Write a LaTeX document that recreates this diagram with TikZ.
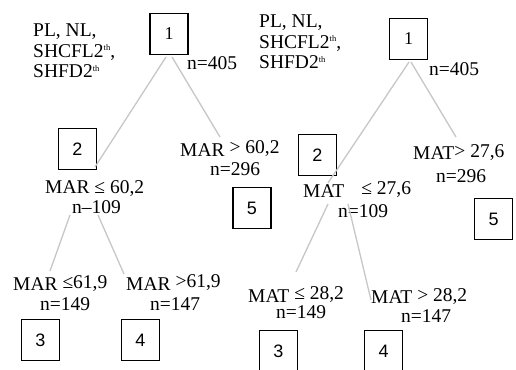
\documentclass[tikz,border=0pt]{standalone}
\usepackage{fontspec}
\setmainfont{Liberation Serif}
\newfontfamily\numsans{Liberation Sans}
\newcommand{\thsup}{\raisebox{6.5pt}{\fontsize{8.5}{8.5}\selectfont th}}
\tikzset{
  nbox/.style={draw=black, line width=1.2pt, minimum width=38pt, minimum height=41pt, inner sep=0pt, font=\numsans\fontsize{18}{18}\selectfont},
  lbl/.style={font=\fontsize{19.5}{19.5}\selectfont, inner sep=0pt, anchor=base west},
  vars/.style={font=\fontsize{19.5}{20.5}\selectfont, inner sep=0pt, anchor=north west, align=left},
  edge/.style={draw=black!22, line width=1.3pt},
}
\begin{document}
\begin{tikzpicture}[x=1pt,y=-1pt]
\clip (0,0) rectangle (516,369);
\fill[white] (0,0) rectangle (516,369);

% ---------------- left tree ----------------
\node[vars] (Lvars) at (33,24) {PL, NL,\\SHCFL2\thsup,\\SHFD2\thsup};
\node[nbox, font=\fontsize{18}{18}\selectfont] (L1) at (169,34) {1};
\node[lbl] (Ln1) at (187,69) {n=405};
\node[nbox] (L2) at (77.5,149) {2};
\node[lbl] (Lc2) at (45,193) {MAR ≤ 60,2};
\node[lbl] (Ln2) at (72,213) {n–109};
\node[lbl] (Lc5) at (180,156) {MAR \raisebox{3pt}{> 60,2}};
\node[lbl] (Ln5) at (210,175) {n=296};
\node[nbox] (L5) at (252,208) {5};
\node[lbl] (Lc3) at (13,290) {MAR \raisebox{2pt}{≤61,9}};
\node[lbl] (Ln3) at (40,310) {n=149};
\node[nbox] (L3) at (40.5,340) {3};
\node[lbl] (Lc4) at (126,290) {MAR \raisebox{3pt}{>61,9}};
\node[lbl] (Ln4) at (150,310) {n=147};
\node[nbox] (L4) at (140.5,340) {4};

\coordinate (La) at (166,57);
\coordinate (Lb) at (95,167);
\coordinate (Lc) at (172,57);
\coordinate (Ld) at (220,137);
\coordinate (Le) at (70,215);
\coordinate (Lf) at (50,271);
\coordinate (Lg) at (98,215);
\coordinate (Lh) at (124,274);
\draw[edge] (La) -- (Lb);
\draw[edge] (Lc) -- (Ld);
\draw[edge] (Le) -- (Lf);
\draw[edge] (Lg) -- (Lh);

% ---------------- right tree ----------------
\node[vars] (Rvars) at (259,15) {PL, NL,\\SHCFL2\thsup,\\SHFD2\thsup};
\node[nbox, font=\fontsize{18}{18}\selectfont] (R1) at (408.5,39) {1};
\node[lbl] (Rn1) at (429,75) {n=405};
\node[nbox] (R2) at (317.5,155) {2};
\node[lbl] (Rc2) at (303,197) {MAT\hspace{17pt}\raisebox{3pt}{≤ 27,6}};
\node[lbl] (Rn2) at (338,217) {n=109};
\node[lbl] (Rc5) at (413,159) {MAT\raisebox{2pt}{> 27,6}};
\node[lbl] (Rn5) at (436,182) {n=296};
\node[nbox] (R5) at (493.5,219) {5};
\node[lbl] (Rc3) at (248,302) {MAT \raisebox{3pt}{≤ 28,2}};
\node[lbl] (Rn3) at (276,318) {n=149};
\node[nbox] (R3) at (278.5,351) {3};
\node[lbl] (Rc4) at (371,303) {MAT \raisebox{2pt}{> 28,2}};
\node[lbl] (Rn4) at (401,322) {n=147};
\node[nbox] (R4) at (383.5,351) {4};

\coordinate (Ra) at (409,62);
\coordinate (Rb) at (328,183);
\coordinate (Rc) at (411,62);
\coordinate (Rd) at (456,137);
\coordinate (Re) at (328,204);
\coordinate (Rf) at (296,272);
\coordinate (Rg) at (348,204);
\coordinate (Rh) at (371,300);
\draw[edge] (Ra) -- (Rb);
\draw[edge] (Rc) -- (Rd);
\draw[edge] (Re) -- (Rf);
\draw[edge] (Rg) -- (Rh);
\end{tikzpicture}
\end{document}
